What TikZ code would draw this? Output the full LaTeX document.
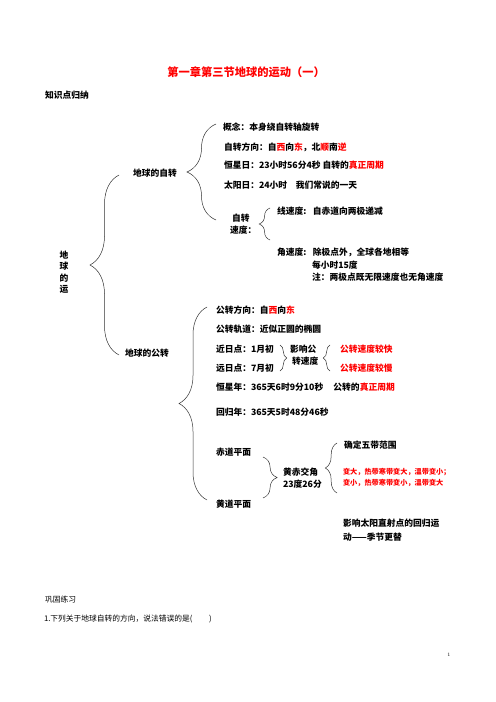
\documentclass[tikz,border=0pt]{standalone}
\usepackage{fontspec}
\usepackage{tikz}
\usetikzlibrary{decorations.pathreplacing}
\newfontfamily\cjk{Noto Sans CJK SC}
\newcommand{\hl}[1]{\textcolor{red}{#1}}

\begin{document}
\begin{tikzpicture}[x=1.2pt,y=-1.2pt]
  \useasboundingbox (0,0) rectangle (496,702);
  \tikzset{TextStyle/.style = {anchor      = west,
                               align       = left,
                               inner sep   = 0pt,
                               outer sep   = 0pt,
                               font        = \cjk\bfseries\fontsize{10.5}{13.8}\selectfont}}

  \tikzset{SmallStyle/.style = {TextStyle,
                                text = red,
                                font = \cjk\bfseries\fontsize{8.6}{13.8}\selectfont}}

  \tikzset{PlainStyle/.style = {TextStyle,
                                font = \cjk\fontsize{9.3}{12}\selectfont}}

  \tikzset{BraceStyle/.style = {decorate,
                                decoration = {brace, amplitude=#1},
                                line width = 0.6pt,
                                draw       = black!80}}

     % heading
     \node[TextStyle,anchor=center,text=red,font=\cjk\bfseries\fontsize{13.5}{16}\selectfont] (Title) at (246,72) {第一章第三节地球的运动（一）};
     \node[TextStyle] (Sum) at (45,95) {知识点归纳};

     % root and the two branches
     \node[TextStyle,anchor=center,align=center] (Root) at (64,272) {地\\球\\的\\运};
     \node[TextStyle] (Zi) at (133,173) {地球的自转};
     \node[TextStyle] (Gong) at (125,353) {地球的公转};

     % rotation
     \node[TextStyle] (Zi_1) at (223,127) {概念：本身绕自转轴旋转};
     \node[TextStyle] (Zi_2) at (224,147) {自转方向：自\hl{西}向\hl{东}，北\hl{顺}南\hl{逆}};
     \node[TextStyle] (Zi_3) at (224,165) {恒星日：23小时56分4秒~自转的\hl{真正周期}};
     \node[TextStyle] (Zi_4) at (224,185) {太阳日：24小时\quad 我们常说的一天};
     \node[TextStyle] (Zi_5) at (230,224) {~自转\\速度：};
     \node[TextStyle] (Zi_6) at (277,211) {\makebox[43pt][l]{线速度:}自赤道向两极递减};
     \node[TextStyle] (Zi_7) at (277,252) {\makebox[43pt][l]{角速度:}除极点外，全球各地相等};
     \node[TextStyle] (Zi_8) at (312,265) {每小时15度};
     \node[TextStyle] (Zi_9) at (312,277) {注：两极点既无限速度也无角速度};

     % revolution
     \node[TextStyle] (Gong_1) at (216,310) {公转方向：自\hl{西}向\hl{东}};
     \node[TextStyle] (Gong_2) at (216,329) {公转轨道：近似正圆的椭圆};
     \node[TextStyle] (Gong_3) at (216,349) {近日点：1月初};
     \node[TextStyle] (Gong_4) at (216,368) {远日点：7月初};
     \node[TextStyle] (Gong_5) at (290,355) {影响公\\~转速度};
     \node[TextStyle,text=red] (Gong_6) at (340,349) {公转速度较快};
     \node[TextStyle,text=red] (Gong_7) at (340,368) {公转速度较慢};
     \node[TextStyle] (Gong_8) at (216,387) {\makebox[141pt][l]{恒星年：365天6时9分10秒}公转的\hl{真正周期}};
     \node[TextStyle] (Gong_9) at (216,412) {回归年：365天5时48分46秒};
     \node[TextStyle] (Gong_10) at (216,452) {赤道平面};
     \node[TextStyle] (Gong_11) at (216,504) {黄道平面};
     \node[TextStyle] (Gong_12) at (283,478) {黄赤交角\\23度26分};
     \node[TextStyle] (Gong_13) at (344,445) {确定五带范围};
     \node[SmallStyle] (Gong_14) at (343,472) {变大，热带寒带变大，温带变小；};
     \node[SmallStyle] (Gong_15) at (343,483) {变小，热带寒带变小，温带变大};
     \node[TextStyle,font=\cjk\bfseries\fontsize{10.5}{16.8}\selectfont] (Gong_16) at (343,530) {影响太阳直射点的回归运\\动——季节更替};

     % exercise
     \node[PlainStyle] (Ex_1) at (45,600) {巩固练习};
     \node[PlainStyle] (Ex_2) at (44,619) {1.下列关于地球自转的方向，说法错误的是(\hspace{20pt})};
     \node[inner sep=0pt,font=\fontsize{6}{7}\selectfont] (Page) at (449,655) {1};

     % brace ends
     \coordinate (B_1a) at (119,175);
     \coordinate (B_1b) at (119,355);
     \coordinate (B_2a) at (216,124);
     \coordinate (B_2b) at (216,220);
     \coordinate (B_3a) at (270,208);
     \coordinate (B_3b) at (270,240);
     \coordinate (B_4a) at (207,307);
     \coordinate (B_4b) at (207,500);
     \coordinate (B_5a) at (280,345);
     \coordinate (B_5b) at (280,371);
     \coordinate (B_6a) at (330,345);
     \coordinate (B_6b) at (330,371);
     \coordinate (B_7a) at (263,457);
     \coordinate (B_7b) at (263,498);
     \coordinate (B_8a) at (337,443);
     \coordinate (B_8b) at (337,493);

     \draw[BraceStyle=34.8pt] (B_1b) -- (B_1a);
     \draw[BraceStyle=34.8pt] (B_2b) -- (B_2a);
     \draw[BraceStyle=13pt]   (B_3b) -- (B_3a);
     \draw[BraceStyle=33.6pt] (B_4b) -- (B_4a);
     \draw[BraceStyle=8pt]    (B_5a) -- (B_5b);
     \draw[BraceStyle=8pt]    (B_6b) -- (B_6a);
     \draw[BraceStyle=17pt]   (B_7a) -- (B_7b);
     \draw[BraceStyle=14pt]   (B_8b) -- (B_8a);

\end{tikzpicture}
\end{document}
